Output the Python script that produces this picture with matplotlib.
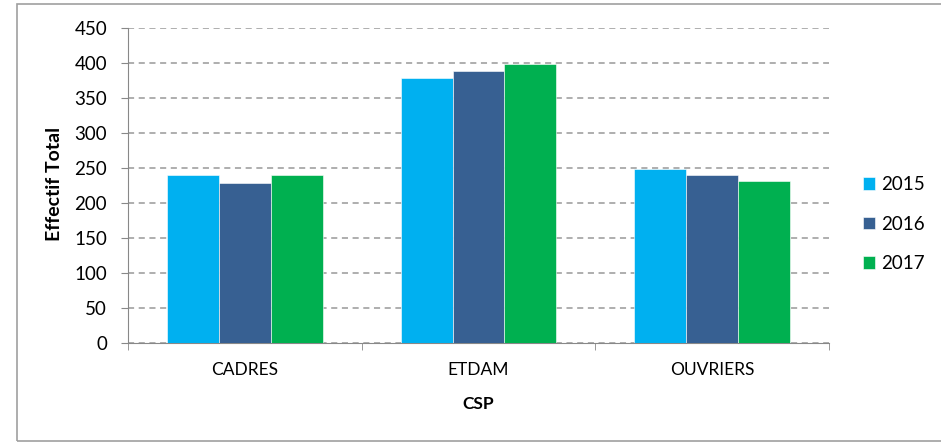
import numpy as np
from matplotlib import pyplot as plt
from matplotlib.patches import Rectangle

plt.rcParams['font.family'] = ['Lato', 'DejaVu Sans']

categories = ['CADRES', 'ETDAM', 'OUVRIERS']
years = ['2015', '2016', '2017']
v2015 = [240, 379, 249]
v2016 = [229, 389, 240]
v2017 = [240, 398, 231]
colors = ['#00B0F0', '#376092', '#00B050']

fig = plt.figure(figsize=(9.41, 4.42), dpi=100)
ax = fig.add_axes([128/941, 1 - 343/442, (829 - 128)/941, (343 - 28)/442])

# outer chart border (Excel style)
fig.patches.append(Rectangle((17/941, 1 - 441/442), 1.0, (441 - 4)/442,
                             transform=fig.transFigure, fill=False,
                             edgecolor='#A0A0A0', linewidth=1.2))

x = np.arange(len(categories))
w = 1/4.5
for i, (vals, c) in enumerate(zip([v2015, v2016, v2017], colors)):
    ax.bar(x + (i - 1)*w, vals, w, color=c, label=years[i],
           edgecolor='white', linewidth=0.4, zorder=3)

ax.set_xlim(-0.5, 2.5)
ax.set_ylim(0, 450)
ax.set_yticks(np.arange(0, 451, 50))
ax.set_xticks(x)
ax.set_xticklabels(categories)
ax.set_xticks([-0.5, 0.5, 1.5, 2.5], minor=True)
ax.tick_params(axis='x', which='major', length=0, pad=14, labelsize=12.5)
ax.tick_params(axis='x', which='minor', length=5, color='#888888')
ax.tick_params(axis='y', length=5, color='#888888', labelsize=13.5, pad=10)

ax.yaxis.grid(True, linestyle=(0, (4, 3)), color='#999999', linewidth=1.1, zorder=0)
for s in ['top', 'right']:
    ax.spines[s].set_visible(False)
ax.spines['left'].set_color('#888888')
ax.spines['bottom'].set_color('#888888')

ax.set_ylabel('Effectif Total', fontsize=14, fontweight='bold', va='center')
ax.yaxis.set_label_coords((55 - 128)/701, (343 - 184)/315)
ax.set_xlabel('CSP', fontsize=12.5, fontweight='bold', va='center')
ax.xaxis.set_label_coords((478 - 128)/701, (343 - 404)/315)

ax.legend(loc='center left', bbox_to_anchor=((863 - 128)/701, (343 - 224)/315),
          frameon=False, fontsize=13.5, handlelength=0.65, handleheight=0.65,
          labelspacing=1.2, handletextpad=0.3, borderpad=0, borderaxespad=0)

plt.savefig('out.png', dpi=100)
